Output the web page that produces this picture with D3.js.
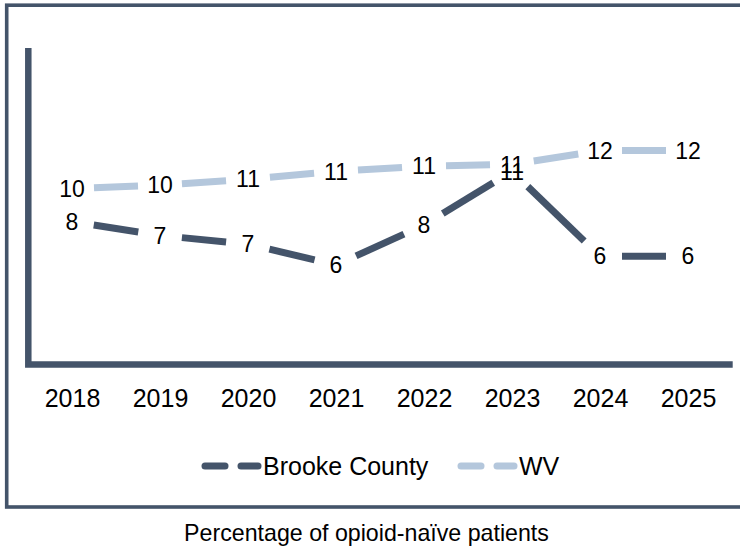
<!DOCTYPE html>
<html><head><meta charset="utf-8">
<script src="https://cdn.jsdelivr.net/npm/d3@7"></script>
<style>html,body{margin:0;padding:0;background:#fff;}svg{display:block;font-family:"Liberation Sans",Arial,sans-serif;}</style>
</head><body>
<svg id="c" width="740" height="546"></svg>
<script>
const years = ["2018","2019","2020","2021","2022","2023","2024","2025"];
const brooke = [8.1, 7.3, 6.8, 5.6, 7.9, 11.0, 6.1, 6.1];
const wv = [10.0, 10.2, 10.55, 11.0, 11.3, 11.4, 12.2, 12.2];
const seriesNames = ["Brooke County", "WV"];
const seriesColors = ["#44546A", "#B4C7DC"];
const caption = "Percentage of opioid-naïve patients";

const svg = d3.select("#c");
const dark = "#44546A";

// outer border
svg.append("rect").attr("x",6.7).attr("y",5.2).attr("width",760).attr("height",501.8)
  .attr("fill","none").attr("stroke",dark).attr("stroke-width",3.6);

const x = d3.scalePoint().domain(years).range([28,732]).padding(0.5);
const y = d3.scaleLinear().domain([0,18]).range([362,50]);

// axis lines
svg.append("path").attr("d",`M28.3,48 V364.5 H732.7`).attr("fill","none")
  .attr("stroke",dark).attr("stroke-width",6.5).attr("stroke-linejoin","miter");

// x axis labels
const xa = svg.append("g").attr("transform","translate(0,380)")
  .call(d3.axisBottom(x).tickSize(0).tickPadding(0));
xa.select(".domain").remove();
xa.selectAll("text").attr("font-size",25).attr("fill","#000")
  .attr("font-family","Liberation Sans, Arial, sans-serif").attr("dy",0).attr("y",26.7);

const series = [brooke, wv];
const gap = 22;
series.forEach((vals, si) => {
  const g = svg.append("g");
  for (let i = 0; i < vals.length - 1; i++) {
    const x1 = x(years[i]), y1 = y(vals[i]), x2 = x(years[i+1]), y2 = y(vals[i+1]);
    const dx = x2 - x1, dy = y2 - y1, L = Math.hypot(dx, dy);
    const ux = dx / L, uy = dy / L;
    g.append("line")
      .attr("x1", x1 + ux*gap).attr("y1", y1 + uy*gap)
      .attr("x2", x2 - ux*gap).attr("y2", y2 - uy*gap)
      .attr("stroke", seriesColors[si]).attr("stroke-width", 7);
  }
});
series.forEach((vals) => {
  svg.append("g").selectAll("text").data(vals).join("text")
    .attr("x",(d,i)=>x(years[i])).attr("y",d=>y(d)+8.2)
    .attr("text-anchor","middle").attr("font-size",23).attr("fill","#000")
    .text(d=>d3.format(".0f")(d));
});

// legend
const leg = [
  {name: seriesNames[0], color: seriesColors[0], x0: 202},
  {name: seriesNames[1], color: seriesColors[1], x0: 458}
];
leg.forEach(l => {
  const g = svg.append("g");
  g.append("line").attr("x1",l.x0+3).attr("x2",l.x0+23).attr("y1",466).attr("y2",466)
    .attr("stroke",l.color).attr("stroke-width",7).attr("stroke-linecap","round");
  g.append("line").attr("x1",l.x0+39).attr("x2",l.x0+56).attr("y1",466).attr("y2",466)
    .attr("stroke",l.color).attr("stroke-width",7).attr("stroke-linecap","round");
  g.append("text").attr("x",l.x0+61).attr("y",475).attr("font-size",25).attr("fill","#000").text(l.name);
});

svg.append("text").attr("x",366.5).attr("y",541).attr("text-anchor","middle")
  .attr("font-size",23.2).attr("fill","#000").text(caption);
</script>
</body></html>
